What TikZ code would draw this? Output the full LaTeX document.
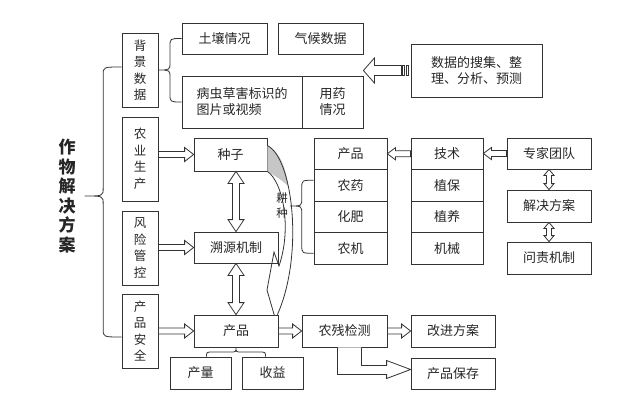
\documentclass[tikz,border=0pt]{standalone}
\usepackage{fontspec}
\setmainfont{Noto Sans CJK SC}
\usetikzlibrary{calc}

\tikzset{
  ln/.style={draw=black!80, line width=0.8pt},
  blk/.style={ln, fill=white},
  box/.style 2 args={ln, minimum width=#1, minimum height=#2, inner sep=1pt, align=center, text=black!85, font=\fontsize{13}{16}\selectfont},
  vbox/.style 2 args={box={#1}{#2}, font=\fontsize{12.5}{16.5}\selectfont},
  title/.style={inner xsep=9pt, inner ysep=0pt, align=center, text=black!85, font=\fontsize{17}{19.5}\selectfont\bfseries},
}

% hollow block arrow: from, to, shaft half width, head half width, head length
\newcommand{\blockarrow}[5]{%
  \draw[blk] let \p1=(#1), \p2=(#2), \p3=($(#2)!#5!(#1)$) in
    (\x1,\y1+#3) -- (\x3,\y1+#3) -- (\x3,\y1+#4) -- (\x2,\y1) -- (\x3,\y1-#4)
    -- (\x3,\y1-#3) -- (\x1,\y1-#3) -- cycle;}
% hollow double arrow, vertical: top, bottom, shaft, head, head length
\newcommand{\dblarrow}[5]{%
  \draw[blk] let \p1=(#1), \p2=(#2) in
    (\x1,\y1) -- (\x1+#4,\y1-#5) -- (\x1+#3,\y1-#5) -- (\x1+#3,\y2+#5)
    -- (\x1+#4,\y2+#5) -- (\x1,\y2) -- (\x1-#4,\y2+#5) -- (\x1-#3,\y2+#5)
    -- (\x1-#3,\y1-#5) -- (\x1-#4,\y1-#5) -- cycle;}
% curly bracket opening to the right: tip, top end, bottom end
\newcommand{\vbracket}[3]{%
  \draw[ln] let \p0=(#1), \p1=(#2), \p2=(#3), \p3=($(#1)!0.5!(#2)$) in
    (\x1,\y1) .. controls (\x3,\y1) .. (\x3,\y1-8pt) -- (\x3,\y0+8pt)
    .. controls (\x3,\y0) .. (\x0,\y0) .. controls (\x3,\y0) .. (\x3,\y0-8pt)
    -- (\x3,\y2+8pt) .. controls (\x3,\y2) .. (\x2,\y2);}
% curly bracket opening downwards: tip, left end, right end
\newcommand{\hbracket}[3]{%
  \draw[ln] let \p0=(#1), \p1=(#2), \p2=(#3), \p3=($(#1)!0.5!(#2)$) in
    (\x1,\y1) .. controls (\x1,\y3) .. (\x1+7pt,\y3) -- (\x0-6pt,\y3)
    .. controls (\x0,\y3) .. (\x0,\y0) .. controls (\x0,\y3) .. (\x0+6pt,\y3)
    -- (\x2-7pt,\y3) .. controls (\x2,\y3) .. (\x2,\y2);}

\begin{document}
\begin{tikzpicture}[x=1pt,y=-1pt]
\useasboundingbox (0,0) rectangle (640,420);

% title and left column
\node[title] (title) at (67,196) {作\\物\\解\\决\\方\\案};
\node[vbox={36pt}{74pt}] (bjsj) at (140,70) {背\\景\\数\\据};
\node[vbox={36pt}{84pt}] (nysc) at (140,159) {农\\业\\生\\产};
\node[vbox={36pt}{74pt}] (fxgk) at (140,248) {风\\险\\管\\控};
\node[vbox={36pt}{74pt}] (cpaq) at (140,331) {产\\品\\安\\全};

% background data
\node[box={85pt}{31pt}] (trqk) at (224.5,38.5) {土壤情况};
\node[box={85pt}{31pt}] (qhsj) at (320.5,38.5) {气候数据};
\node[box={120pt}{52pt}, align=left] (bcch) at (242,102) {病虫草害标识的\\图片或视频};
\node[box={61pt}{52pt}] (yyqk) at (332.5,102) {用药\\情况};
\node[box={131pt}{53pt}, align=left] (sjsj) at (476.5,70.5) {数据的搜集、整\\理、分析、预测};

% middle column
\node[box={73pt}{33pt}] (zhzi) at (230.5,154.5) {种子};
\node[box={84pt}{31pt}] (syjz) at (236,247.5) {溯源机制};
\node[box={84pt}{32pt}] (cpin) at (236,331) {产品};
\node[box={61pt}{32pt}] (chl) at (200.5,373) {产量};
\node[box={61pt}{32pt}] (shy) at (272.5,373) {收益};

% products and techniques
\node[box={73pt}{31.5pt}] (cp2) at (350.5,153.75) {产品};
\node[box={73pt}{31.5pt}] (nyao) at (350.5,185.25) {农药};
\node[box={73pt}{31.5pt}] (hf) at (350.5,216.75) {化肥};
\node[box={73pt}{31.5pt}] (nj) at (350.5,248.25) {农机};
\node[box={72pt}{31.5pt}] (js) at (447,153.75) {技术};
\node[box={72pt}{31.5pt}] (zb) at (447,185.25) {植保};
\node[box={72pt}{31.5pt}] (zy) at (447,216.75) {植养};
\node[box={72pt}{31.5pt}] (jx) at (447,248.25) {机械};
\node[box={84pt}{31pt}] (zjtd) at (549,153.5) {专家团队};
\node[box={84pt}{32pt}] (jjfa) at (549,206) {解决方案};
\node[box={84pt}{32pt}] (wzjz) at (549,258) {问责机制};

% testing
\node[box={85pt}{32pt}] (ncjc) at (344.5,331) {农残检测};
\node[box={84pt}{32pt}] (gjfa) at (453,331) {改进方案};
\node[box={84pt}{31pt}] (cpbc) at (453,373.5) {产品保存};

% brackets
\vbracket{title.east}{$(bjsj.west)+(0,-3)$}{$(cpaq.west)+(0,6)$}
\vbracket{bjsj.east}{trqk.west}{bcch.west}
\hbracket{cpin.south}{$(chl.north)+(6,0)$}{$(shy.north)+(-7,0)$}

% curved arrow for 耕种
\fill[gray!45] ($(zhzi.north east)+(0,8)$) .. controls (280,152) and (286,168) .. (288,186)
  .. controls (283,181) and (274,175) .. (zhzi.south east) -- cycle;
\draw[ln] ($(zhzi.north east)+(0,8)$) .. controls (293,158) and (304,255) .. ($(cpin.north east)+(-1,0)$);
\draw[ln] (zhzi.south east) .. controls (283,182) and (292,228) .. (279,266)
  -- (274,252) -- (267,290) -- ($(cpin.north east)+(-4,1)$);
\node[align=center, inner sep=2pt, text=black!85, font=\fontsize{11.5}{15}\selectfont] (gz) at (282,206) {耕\\种};
\vbracket{gz.east}{$(nyao.west)+(0,-5)$}{$(nj.west)+(0,5)$}

% arrows
\blockarrow{$(sjsj.west)+(-9,0)$}{qhsj.east |- sjsj.west}{5pt}{12.5pt}{11pt}
\draw[blk] ($(sjsj.west)+(-8,-5)$) rectangle ($(sjsj.west)+(-6,5)$);
\draw[blk] ($(sjsj.west)+(-4,-5)$) rectangle ($(sjsj.west)+(-2,5)$);
\blockarrow{nysc.east |- zhzi.west}{zhzi.west}{3pt}{7pt}{9pt}
\blockarrow{fxgk.east |- syjz.west}{syjz.west}{3pt}{7pt}{9pt}
\blockarrow{cpaq.east |- cpin.west}{cpin.west}{3pt}{7pt}{9pt}
\blockarrow{cpin.east}{ncjc.west}{3pt}{7pt}{9pt}
\blockarrow{ncjc.east}{gjfa.west}{3pt}{7pt}{9pt}
\blockarrow{js.west}{cp2.east}{3pt}{6pt}{8pt}
\blockarrow{zjtd.west}{js.east}{3pt}{6pt}{8pt}
\dblarrow{syjz.north |- zhzi.south}{syjz.north}{3.5pt}{8pt}{12pt}
\dblarrow{syjz.south}{cpin.north}{3.5pt}{8pt}{12pt}
\dblarrow{zjtd.south}{jjfa.north}{2.5pt}{5pt}{6pt}
\dblarrow{jjfa.south}{wzjz.north}{2.5pt}{5pt}{6pt}
\draw[blk] let \p1=(ncjc.south), \p2=($(cpbc.west)+(0,-4)$) in
  (\x1-7pt,\y1) -- (\x1-7pt,\y2-5pt) -- (\x2-24pt,\y2-5pt) -- (\x2-24pt,\y2-9pt)
  -- (\x2,\y2) -- (\x2-24pt,\y2+9pt) -- (\x2-24pt,\y2+4pt) -- (\x1+17pt,\y2+4pt)
  -- (\x1+17pt,\y1);
\end{tikzpicture}
\end{document}
